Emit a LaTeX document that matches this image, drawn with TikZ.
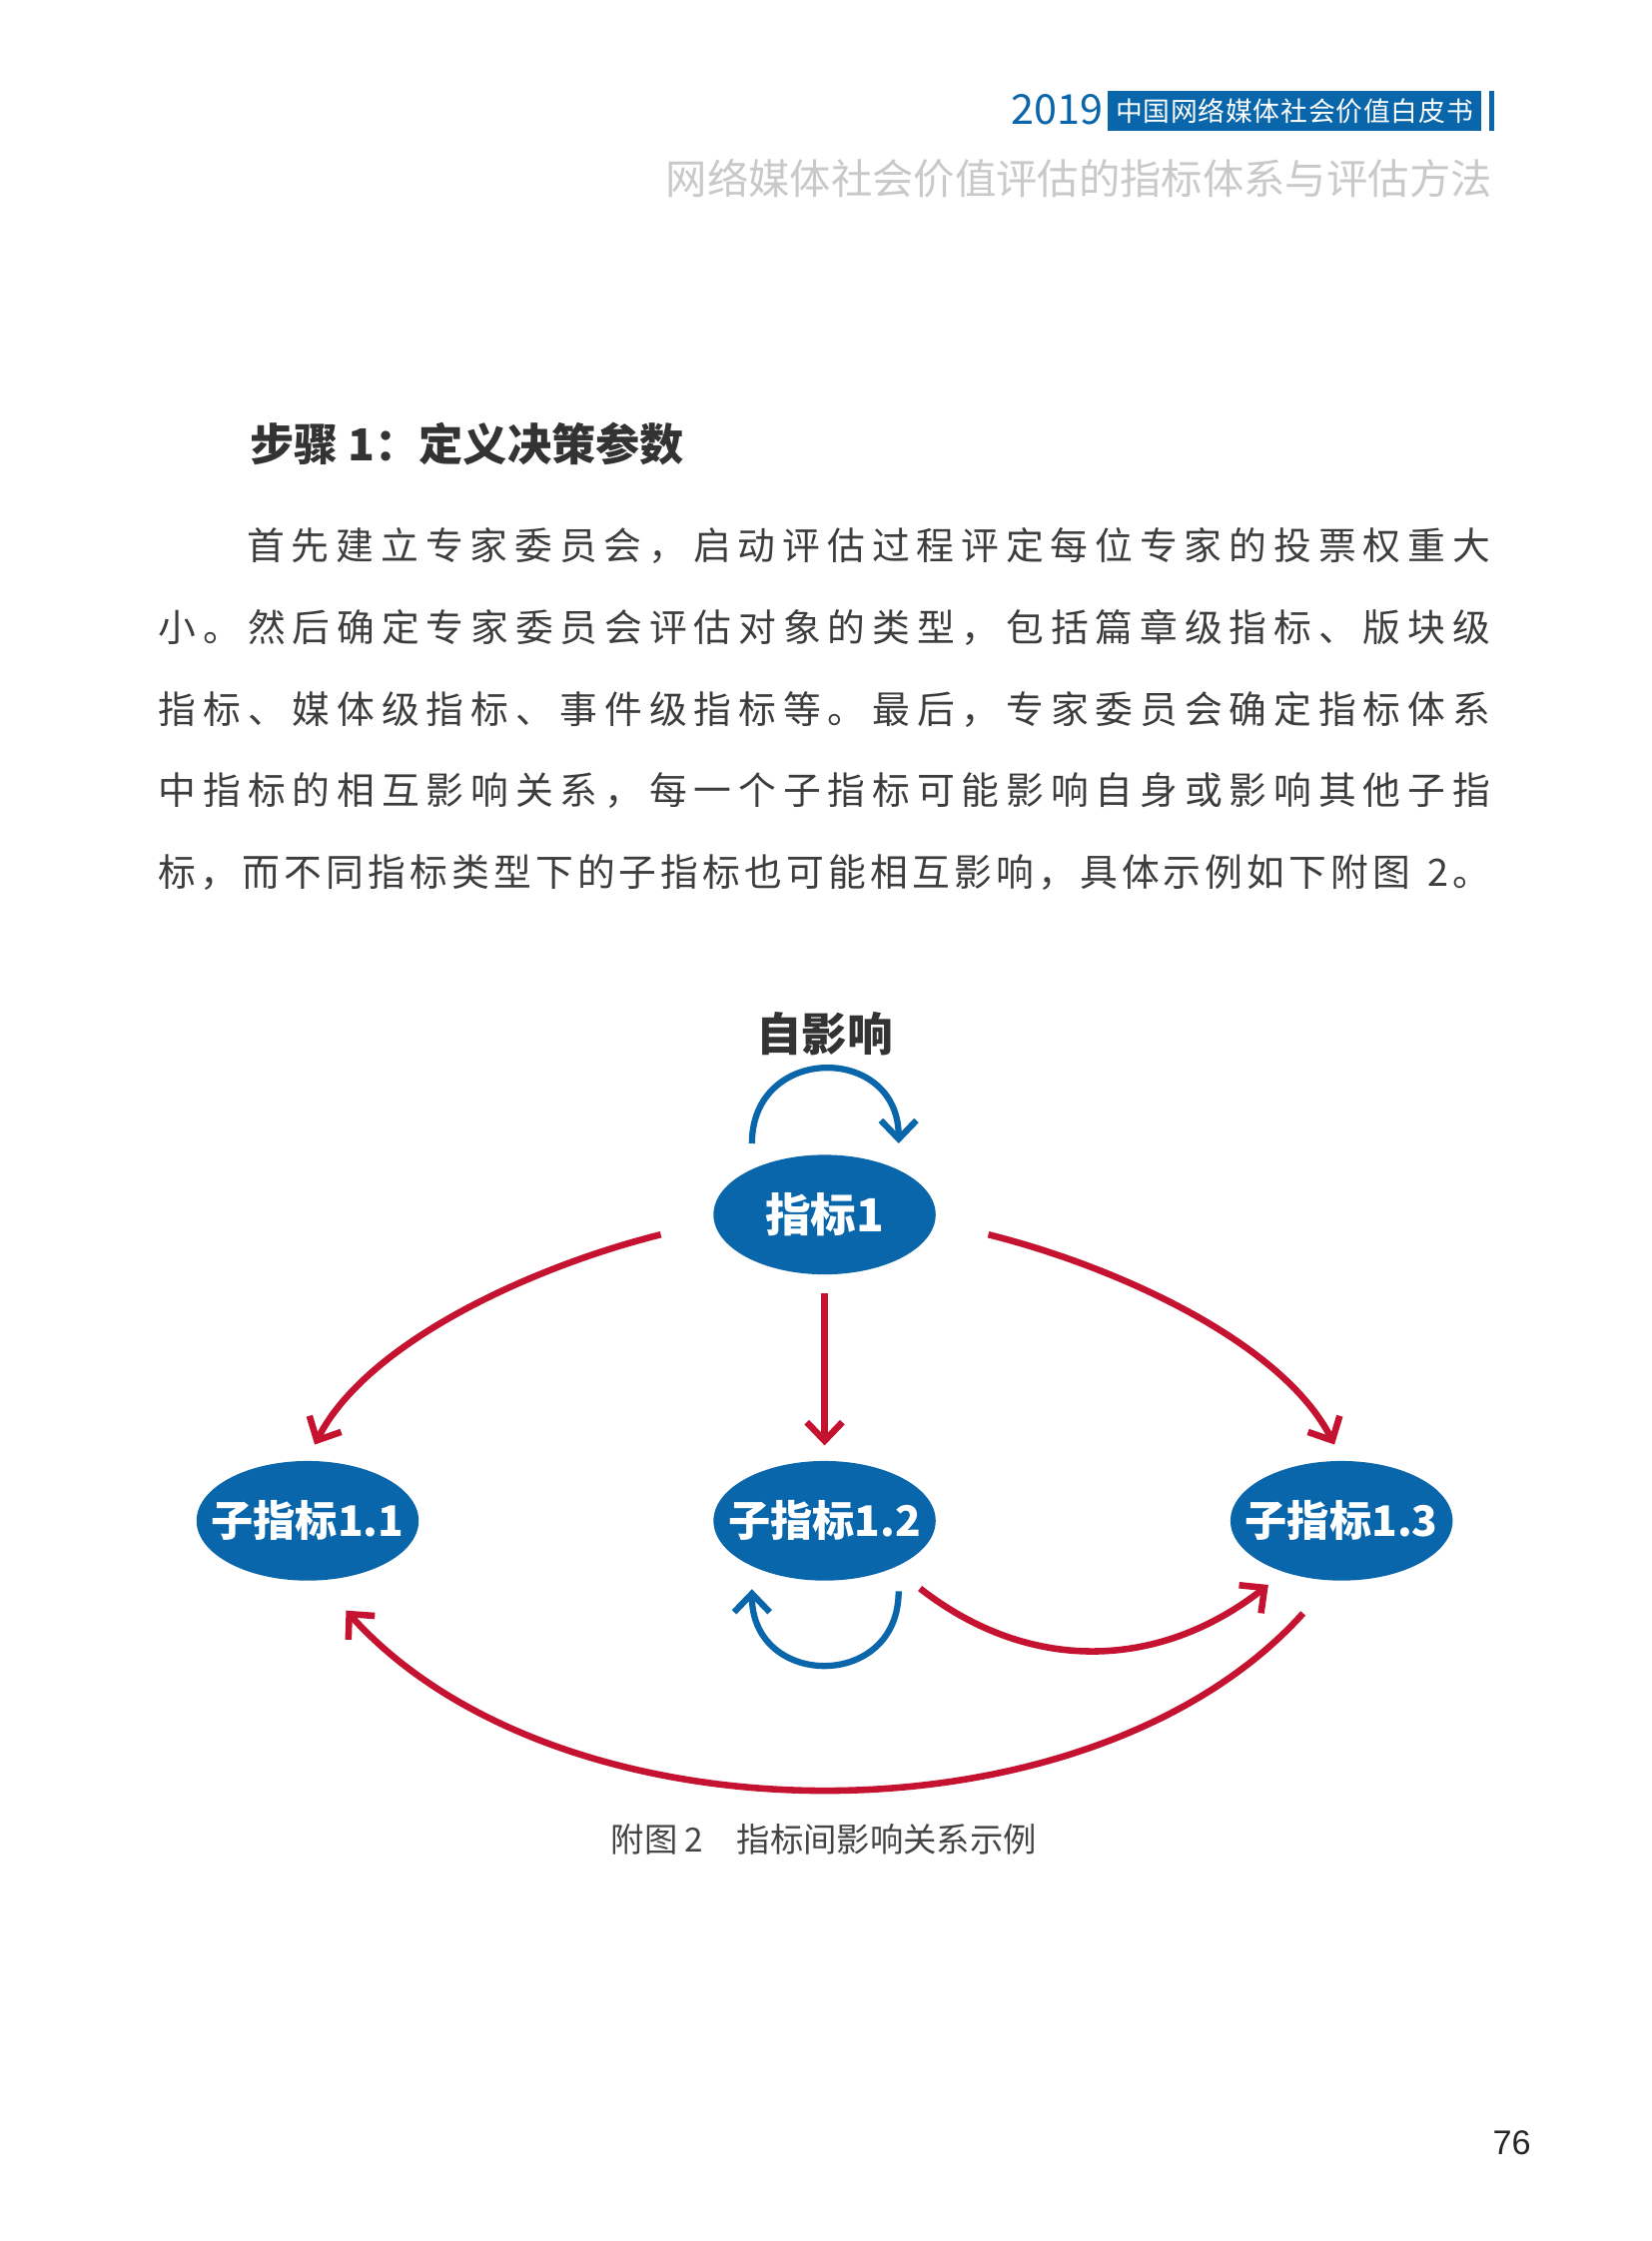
\documentclass[tikz,border=0pt]{standalone}
\usepackage{fontspec}
\setmainfont{Noto Sans CJK SC}
\newfontfamily\pgfont{Liberation Sans}
\usetikzlibrary{arrows.meta,shapes.geometric}
\definecolor{nblue}{HTML}{0A66AB}
\definecolor{nred}{HTML}{C41230}
\definecolor{txtc}{HTML}{3D3D3D}
\definecolor{ttlc}{HTML}{333333}
\definecolor{subc}{HTML}{C9C9C9}
\definecolor{capc}{HTML}{444444}
\ExplSyntaxOn
\cs_new_protected:Npn \spreadchars #1
  {
    \bool_set_true:N \l_tmpa_bool
    \tl_map_inline:nn {#1}
      {
        \bool_if:NTF \l_tmpa_bool { \bool_set_false:N \l_tmpa_bool } { \hfil }
        ##1
      }
  }
\ExplSyntaxOff
\newcommand\spreadline[2]{\hbox to #1{\spreadchars{#2}}}
\tikzset{
  ellip/.style={ellipse, fill=nblue, inner sep=0pt, minimum width=78pt, minimum height=42pt,
    text=white, font=\bfseries\fontsize{14.8}{16}\selectfont},
  redarr/.style={draw=nred, line width=2.3pt, -{Straight Barb[length=6.5pt,width=12.5pt]}},
  bluearr/.style={draw=nblue, line width=2.2pt, -{Straight Barb[length=6.5pt,width=12.5pt]}},
  para/.style={anchor=west, inner sep=0pt, text=txtc, font=\fontsize{13.25}{14}\selectfont},
}
\begin{document}
\begin{tikzpicture}[x=0.5pt,y=-0.5pt]
\useasboundingbox (0,0) rectangle (1160,1573.8);
\fill[white] (0,0) rectangle (1160,1573.8);
% header
\node[fill=nblue, text=white, inner sep=0pt, minimum width=130.9pt, minimum height=14pt,
  font=\fontsize{9.4}{10}\selectfont] (hbox) at (908.9,77.75) {\spreadline{125.5pt}{中国网络媒体社会价值白皮书}};
\node[anchor=east, inner sep=0pt, text=nblue, font=\fontsize{14.5}{15}\selectfont] (year) at (775,77.2) {2019};
\fill[nblue] (1045.6,63.8) rectangle (1049,91.7);
\node[anchor=east, inner sep=0pt, text=subc, font=\fontsize{14.5}{15}\selectfont] (subt) at (1048,125) {网络媒体社会价值评估的指标体系与评估方法};
% title and paragraph
\node[anchor=west, inner sep=0pt, text=ttlc, font=\bfseries\fontsize{15.5}{16}\selectfont] (title) at (175,312) {步骤 1：定义决策参数};
\node[para] (p1) at (173,383.4) {\spreadline{436.5pt}{首先建立专家委员会，启动评估过程评定每位专家的投票权重大}};
\node[para] (p2) at (111,440.7) {\spreadline{467.5pt}{小。然后确定专家委员会评估对象的类型，包括篇章级指标、版块级}};
\node[para] (p3) at (111,498) {\spreadline{467.5pt}{指标、媒体级指标、事件级指标等。最后，专家委员会确定指标体系}};
\node[para] (p4) at (111,555.3) {\spreadline{467.5pt}{中指标的相互影响关系，每一个子指标可能影响自身或影响其他子指}};
\node[para] (p5) at (111,612.6) {\spreadline{467.5pt}{标，而不同指标类型下的子指标也可能相互影响，具体示例如下附图{\ }2。}};
% diagram nodes
\node[inner sep=0pt, text=ttlc, font=\bfseries\fontsize{16}{16}\selectfont] (self) at (579,725.7) {自影响};
\node[ellip, font=\bfseries\fontsize{16}{16}\selectfont] (n1) at (579,853) {\makebox[0pt]{指标1}};
\node[ellip] (n11) at (216,1068) {\makebox[0pt]{子指标1.1}};
\node[ellip] (n12) at (579,1068) {\makebox[0pt]{子指标1.2}};
\node[ellip] (n13) at (942,1068) {\makebox[0pt]{子指标1.3}};
% connector end points
\path (n1.center) ++(-115,14) coordinate (a1s);
\path (n11.center) ++(5,-53.5) coordinate (a1e);
\path (n1.center) ++(115,14) coordinate (a3s);
\path (n13.center) ++(-5,-53.5) coordinate (a3e);
\path (n1.center) ++(-51,-50) coordinate (l1s);
\path (n1.center) ++(52,-50) coordinate (l1e);
\path (n12.center) ++(52,49.5) coordinate (l2s);
\path (n12.center) ++(-51,48) coordinate (l2e);
\path (n12.center) ++(67,47.5) coordinate (b1s);
\path (n13.center) ++(-51.4,45) coordinate (b1e);
\path (n13.center) ++(-27,65) coordinate (b2s);
\path (n11.center) ++(27,63) coordinate (b2e);
% connectors
\draw[redarr] (a1s) .. controls +(-92,23) and +(36.3,-71.3) .. (a1e);
\draw[redarr] (a3s) .. controls +(92,23) and +(-36.3,-71.3) .. (a3e);
\draw[redarr, shorten <=6.5pt, shorten >=5.25pt] (n1) -- (n12);
\draw[bluearr] (l1s) .. controls +(0,-70) and +(0,-70) .. (l1e);
\draw[bluearr] (l2s) .. controls +(0,70) and +(0,70) .. (l2e);
\draw[redarr] (b1s) .. controls +(76.8,60) and +(-76.8,60) .. (b1e);
\draw[redarr] (b2s) .. controls +(-150,166.7) and +(150,166.7) .. (b2e);
% caption and page number
\node[inner sep=0pt, text=capc, font=\fontsize{11.7}{12}\selectfont] (cap) at (578.5,1292) {附图 2　指标间影响关系示例};
\node[inner sep=0pt, text=black!85, font=\pgfont\fontsize{12}{12}\selectfont] (pg) at (1061.5,1505) {76};
\end{tikzpicture}
\end{document}
